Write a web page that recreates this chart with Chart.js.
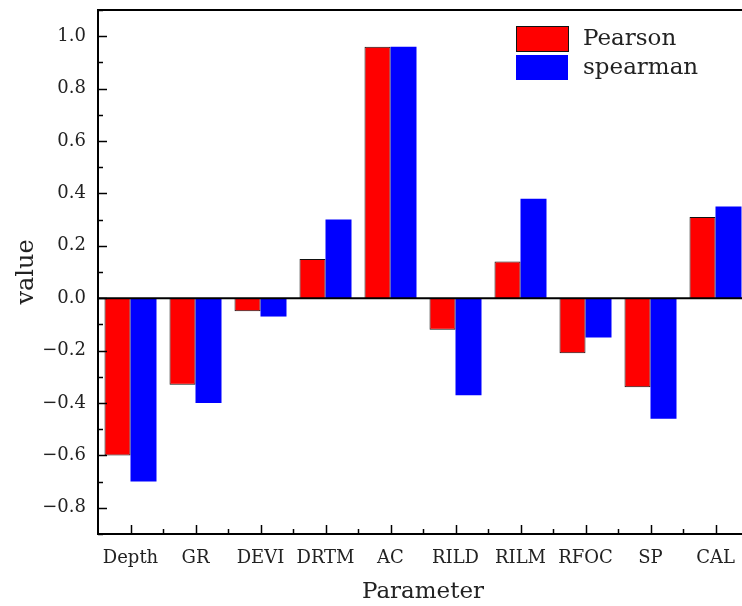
<!DOCTYPE html>
<html>
<head>
<meta charset="utf-8">
<script src="https://cdn.jsdelivr.net/npm/chart.js@4"></script>
<style>
  html, body { margin: 0; padding: 0; background: #fff; overflow: hidden; }
  #wrap { width: 752px; height: 606px; }
</style>
</head>
<body>
<div id="wrap"><canvas id="chart"></canvas></div>
<script>
// correlation of each log parameter
const parameters = ['Depth', 'GR', 'DEVI', 'DRTM', 'AC', 'RILD', 'RILM', 'RFOC', 'SP', 'CAL']
const pearson = [-0.60, -0.33, -0.05, 0.15, 0.96, -0.12, 0.14, -0.21, -0.34, 0.31]
const spearman = [-0.70, -0.40, -0.07, 0.30, 0.96, -0.37, 0.38, -0.15, -0.46, 0.35]
const yTicks = [-0.8, -0.6, -0.4, -0.2, 0.0, 0.2, 0.4, 0.6, 0.8, 1.0]

const FONT = "'DejaVu Serif', serif"

// ticks pointing into the plot, zero line, top frame, legend
const framePlugin = {
  id: 'frame',
  afterDatasetsDraw(chart) {
    const {ctx, chartArea: a, scales: {x, y}} = chart
    ctx.save()
    ctx.strokeStyle = '#000'

    // zero line
    ctx.lineWidth = 2
    ctx.beginPath()
    ctx.moveTo(a.left, y.getPixelForValue(0))
    ctx.lineTo(a.right, y.getPixelForValue(0))
    ctx.stroke()

    // top frame
    ctx.beginPath()
    ctx.moveTo(a.left, a.top)
    ctx.lineTo(a.right, a.top)
    ctx.stroke()

    // y ticks, major and minor
    ctx.lineWidth = 1.5
    for (let i = -9; i <= 11; i++) {
      const py = Math.round(y.getPixelForValue(i / 10)) + 0.5
      const len = i % 2 === 0 ? 9 : 5
      ctx.beginPath()
      ctx.moveTo(a.left, py)
      ctx.lineTo(a.left + len, py)
      ctx.stroke()
    }
    // x ticks at categories and between them
    for (let i = 0; i < parameters.length; i++) {
      const px = Math.round(x.getPixelForValue(i)) + 0.5
      ctx.beginPath()
      ctx.moveTo(px, a.bottom)
      ctx.lineTo(px, a.bottom - 9)
      ctx.stroke()
      const bx = Math.round(x.getPixelForValue(i + 0.5)) + 0.5
      ctx.beginPath()
      ctx.moveTo(bx, a.bottom)
      ctx.lineTo(bx, a.bottom - 5)
      ctx.stroke()
    }

    // legend
    ctx.font = '23px ' + FONT
    ctx.textBaseline = 'middle'
    chart.data.datasets.forEach((ds, i) => {
      const top = 26 + i * 29
      ctx.fillStyle = ds.backgroundColor
      ctx.fillRect(516, top, 52, 25)
      if (ds.borderWidth) {
        ctx.lineWidth = 1
        ctx.strokeStyle = ds.borderColor
        ctx.strokeRect(516.5, top + 0.5, 52, 25)
      }
      ctx.fillStyle = '#222'
      ctx.fillText(ds.label, 583, top + 13)
    })
    ctx.restore()
  }
}

new Chart(document.getElementById('chart'), {
  type: 'bar',
  data: {
    labels: parameters,
    datasets: [
      {
        label: 'Pearson',
        data: pearson,
        backgroundColor: '#ff0000',
        borderColor: '#111',
        borderWidth: 1
      },
      {
        label: 'spearman',
        data: spearman,
        backgroundColor: '#0000ff',
        borderColor: '#0000ff',
        borderWidth: 0
      }
    ]
  },
  options: {
    responsive: true,
    maintainAspectRatio: false,
    animation: false,
    layout: {padding: {top: 10, right: 4, left: 0, bottom: 0}},
    datasets: {bar: {categoryPercentage: 0.8, barPercentage: 1.0}},
    plugins: {legend: {display: false}, tooltip: {enabled: false}},
    scales: {
      x: {
        grid: {display: false, drawTicks: false},
        border: {color: '#000', width: 2},
        ticks: {color: '#222', font: {family: FONT, size: 18}, padding: 14},
        title: {display: true, text: 'Parameter', color: '#222',
          font: {family: FONT, size: 23}, padding: {top: 4, bottom: 0}},
        afterFit(scale) { scale.height = 72 }
      },
      y: {
        min: -0.9,
        max: 1.1,
        afterBuildTicks(scale) { scale.ticks = yTicks.map(v => ({value: v})) },
        grid: {display: false, drawTicks: false},
        border: {color: '#000', width: 2},
        ticks: {color: '#222', font: {family: FONT, size: 18}, padding: 12,
          callback: v => Number(v).toFixed(1).replace('-', '\u2212')},
        title: {display: true, text: 'value', color: '#222',
          font: {family: FONT, size: 24}, padding: {top: 12, bottom: 0}},
        afterFit(scale) {
          scale.width = 98
          scale.paddingTop = 0
          scale.paddingBottom = 0
        }
      }
    }
  },
  plugins: [framePlugin]
})
</script>
</body>
</html>
